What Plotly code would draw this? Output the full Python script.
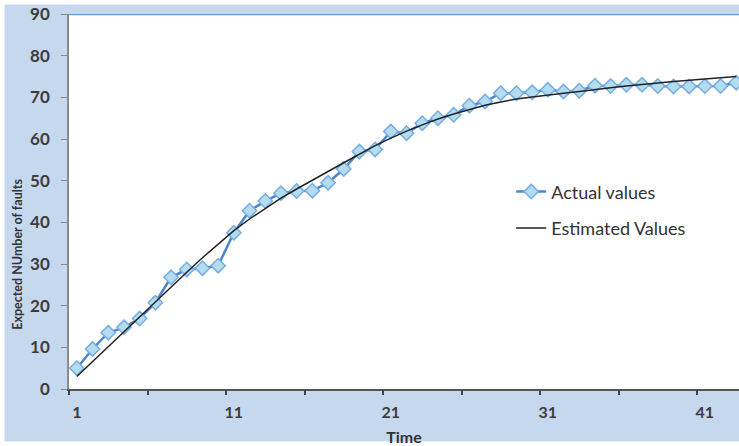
import plotly.graph_objects as go

time = list(range(1, 44))
actual = [5.0, 9.6, 13.5, 14.8, 16.9, 20.7, 26.8, 28.7, 29.0, 29.6,
          37.5, 42.8, 45.1, 47.0, 47.5, 47.6, 49.5, 52.8, 57.0, 57.5,
          61.8, 61.4, 63.8, 65.0, 65.8, 68.0, 69.0, 71.0, 71.0, 71.2,
          71.8, 71.4, 71.6, 72.8, 72.7, 73.0, 73.0, 72.7, 72.6, 72.6,
          72.7, 72.7, 73.5]
estimated = [3.0, 6.6, 10.2, 13.8, 17.4, 21.0, 24.5, 28.0, 31.5, 34.8,
             38.0, 40.8, 43.4, 45.8, 48.0, 50.2, 52.2, 54.3, 56.4, 58.4,
             60.2, 61.9, 63.4, 64.8, 66.0, 67.1, 68.1, 68.9, 69.6, 70.1,
             70.6, 71.0, 71.4, 71.9, 72.3, 72.7, 73.1, 73.4, 73.8, 74.1,
             74.4, 74.7, 75.0]
x_label_vals = [1, 11, 21, 31, 41]
x_labels = ["1", "11", "21", "31", "41"]
x_tick_marks = [0.5, 5.5, 10.5, 15.5, 20.5, 25.5, 30.5, 35.5, 40.5]
y_ticks = [0, 10, 20, 30, 40, 50, 60, 70, 80, 90]

W, H = 739, 446
ML, MR, MT, MB = 69, 0, 14, 57
PW, PH = W - ML - MR, H - MT - MB
XR = [0.5, 0.5 + PW / 15.7]
FONT = "Lato, Open Sans, sans-serif"
BORDER = 4.5  # white outer frame, px

fig = go.Figure()
fig.add_trace(go.Scatter(
    x=time, y=actual, name="Actual values", mode="lines+markers",
    line=dict(color="#4a86cf", width=2.5),
    marker=dict(symbol="diamond", size=11, color="#b3dcef",
                line=dict(color="#76ade2", width=1.5)),
    legendgroup="a"))
fig.add_trace(go.Scatter(
    x=time, y=estimated, name="Estimated Values", mode="lines",
    line=dict(color="#222222", width=1.5), legendgroup="b"))
# invisible trace to carry the boundary tick marks axis
fig.add_trace(go.Scatter(x=[XR[0]], y=[0], xaxis="x2", mode="markers",
                         marker=dict(opacity=0), showlegend=False,
                         hoverinfo="skip"))

px_x = lambda p: (p - ML) / PW          # page px -> paper x
px_y = lambda p: (H - MB - p) / PH      # page px -> paper y
white = dict(color="rgba(0,0,0,0)", width=0)
frame = [
    dict(type="rect", xref="paper", yref="paper", x0=px_x(0), x1=px_x(BORDER),
         y0=px_y(H), y1=px_y(0), fillcolor="white", line=white),
    dict(type="rect", xref="paper", yref="paper", x0=px_x(0), x1=px_x(W),
         y0=px_y(BORDER), y1=px_y(0), fillcolor="white", line=white),
    dict(type="rect", xref="paper", yref="paper", x0=px_x(0), x1=px_x(W),
         y0=px_y(H), y1=px_y(H - BORDER), fillcolor="white", line=white),
]

fig.update_layout(
    width=W, height=H,
    margin=dict(l=ML, r=MR, t=MT, b=MB, pad=0, autoexpand=False),
    paper_bgcolor="#c6d8ee", plot_bgcolor="white",
    showlegend=True,
    legend=dict(x=0.66, y=0.575, xanchor="left", yanchor="top",
                bgcolor="rgba(0,0,0,0)", tracegroupgap=10,
                traceorder="grouped",
                font=dict(family=FONT, size=18, color="#333333")),
    xaxis=dict(range=XR, tickvals=x_label_vals, ticktext=x_labels,
               ticks="", showgrid=False, zeroline=False, automargin=False,
               showline=True, linecolor="#555555", linewidth=1.5,
               tickfont=dict(family=FONT, size=16, color="#3c3c3c",
                             weight="bold"),
               ticklabelstandoff=8,
               title=dict(text="<b>Time</b>", standoff=13,
                          font=dict(family=FONT, size=16, color="#333333"))),
    xaxis2=dict(range=XR, overlaying="x", side="bottom", automargin=False,
                tickvals=x_tick_marks, ticks="outside", ticklen=5,
                tickwidth=1.5, tickcolor="#444444", showticklabels=False,
                showgrid=False, zeroline=False, showline=False),
    yaxis=dict(range=[0, 90], tickvals=y_ticks, ticks="outside", ticklen=6,
               tickcolor="#8a8a8a", showgrid=False, zeroline=False,
               automargin=False,
               showline=True, linecolor="#8a8a8a", linewidth=1.5,
               tickfont=dict(family=FONT, size=17, color="#3c3c3c",
                             weight="bold"),
               ticklabelstandoff=8),
    annotations=[
        dict(text="<b>Expected NUmber of faults</b>", textangle=-90,
             xref="paper", yref="paper", x=-0.078, y=0.36,
             xanchor="center", yanchor="middle", showarrow=False,
             font=dict(family=FONT, size=12.5, color="#333333")),
    ],
    shapes=[
        dict(type="line", xref="paper", yref="y", x0=0, x1=1, y0=90, y1=90,
             line=dict(color="#6b9ad4", width=2.5)),
    ] + frame,
)

fig.write_html("out.html", config={"displayModeBar": False},
               post_script="document.body.style.margin='0px';")
